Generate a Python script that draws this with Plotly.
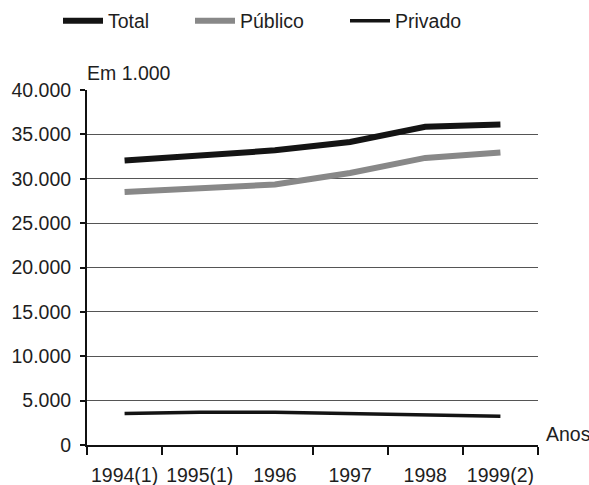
import plotly.graph_objects as go

# Matrículas (em milhares) por ano
anos = ["1994(1)", "1995(1)", "1996", "1997", "1998", "1999(2)"]
total = [32050, 32650, 33200, 34150, 35850, 36100]
publico = [28500, 29000, 29350, 30650, 32350, 32950]
privado = [3550, 3700, 3700, 3550, 3400, 3250]

y_ticks = [0, 5000, 10000, 15000, 20000, 25000, 30000, 35000, 40000]
y_tick_text = ["0", "5.000", "10.000", "15.000", "20.000", "25.000",
               "30.000", "35.000", "40.000"]

FONT = "Liberation Sans, Arial, sans-serif"
FSIZE = 19.5
TXT = "#1e1e1e"

fig = go.Figure()
fig.add_trace(go.Scatter(x=anos, y=total, name="Total", mode="lines",
                         line=dict(color="#141414", width=6),
                         legend="legend"))
fig.add_trace(go.Scatter(x=anos, y=publico, name="Público", mode="lines",
                         line=dict(color="#888888", width=6),
                         legend="legend2"))
fig.add_trace(go.Scatter(x=anos, y=privado, name="Privado", mode="lines",
                         line=dict(color="#141414", width=3.5),
                         legend="legend3"))

legend_common = dict(orientation="h", xanchor="left", yanchor="middle",
                     xref="container", yref="container",
                     font=dict(family=FONT, size=FSIZE, color=TXT),
                     bgcolor="rgba(0,0,0,0)", itemwidth=40)

fig.update_layout(
    width=589, height=485,
    margin=dict(l=87, r=51, t=90, b=40),
    paper_bgcolor="white", plot_bgcolor="white",
    font=dict(family=FONT, size=FSIZE, color=TXT),
    showlegend=True,
    legend=dict(x=58 / 589, y=1 - 21 / 485, **legend_common),
    legend2=dict(x=190 / 589, y=1 - 21 / 485, **legend_common),
    legend3=dict(x=345 / 589, y=1 - 21 / 485, **legend_common),
    xaxis=dict(type="category", range=[-0.5, 5.5], tickson="boundaries",
               ticks="outside", ticklen=8, tickwidth=1.5, tickcolor="#111",
               ticklabelstandoff=12, tickangle=0, automargin=False,
               showline=True, linecolor="#111", linewidth=2,
               showgrid=False, zeroline=False,
               tickfont=dict(family=FONT, size=FSIZE, color=TXT)),
    yaxis=dict(range=[0, 40000], tickvals=y_ticks, ticktext=y_tick_text,
               ticks="outside", ticklen=5, tickwidth=1.5, tickcolor="#111",
               ticklabelstandoff=5, automargin=False,
               showline=True, linecolor="#111", linewidth=2,
               showgrid=True, gridcolor="#555", gridwidth=1,
               zeroline=False,
               tickfont=dict(family=FONT, size=FSIZE, color=TXT)),
    annotations=[
        dict(text="Em 1.000", xref="paper", yref="paper", x=0, y=1,
             xanchor="left", yanchor="bottom", yshift=4, xshift=-2,
             showarrow=False,
             font=dict(family=FONT, size=FSIZE, color=TXT)),
        dict(text="Anos", xref="paper", yref="paper", x=1, y=0,
             xanchor="left", yanchor="bottom", xshift=6, yshift=-2,
             showarrow=False,
             font=dict(family=FONT, size=FSIZE, color=TXT)),
    ],
)

fig.write_html("out.html")
